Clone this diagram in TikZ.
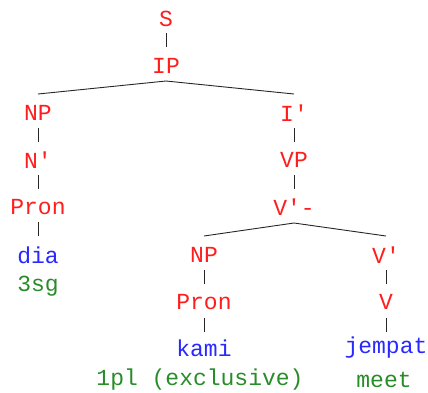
\documentclass[tikz,border=0pt]{standalone}
\usepackage{fontspec}
\setmainfont{Liberation Mono}[Ligatures=TeXOff]
\definecolor{cat}{RGB}{255,30,30}
\definecolor{word}{RGB}{40,40,255}
\definecolor{gloss}{RGB}{40,140,40}
\begin{document}
\begin{tikzpicture}[x=1pt,y=-1pt,
  every node/.style={inner sep=0pt,font=\fontsize{23}{26}\selectfont},
  cat/.style={text=cat},
  word/.style={text=word},
  gl/.style={text=gloss},
  edge/.style={draw=black!85,line width=0.9pt}]
\useasboundingbox (0,0) rectangle (428,392);
\node[cat] (S) at (166,19) {S};
\node[cat] (IP) at (166,66) {IP};
\node[cat] (NP1) at (38,113) {NP};
\node[cat] (Nb) at (38,160) {N'};
\node[cat] (Pron1) at (38,207) {Pron};
\node[word] (dia) at (38,255) {dia};
\node[gl] (g1) at (38,286) {3sg};
\node[cat] (Ib) at (294,113) {I'};
\node[cat] (VP) at (294,160) {VP};
\node[cat] (Vbm) at (294,207) {V'-};
\node[cat] (NP2) at (204,255) {NP};
\node[cat] (Pron2) at (204,302) {Pron};
\node[word] (kami) at (204,348) {kami};
\node[gl] (g2) at (200,380) {1pl (exclusive)};
\node[cat] (Vb) at (386,255) {V'};
\node[cat] (V) at (386,302) {V};
\node[word] (jempat) at (386,348) {jempat};
\node[gl] (g3) at (384,380) {meet};
\coordinate (S-b) at (166,33); \coordinate (IP-t) at (166,47);
\coordinate (IP-b) at (166,81);
\coordinate (NP1-t) at (38,94); \coordinate (Ib-t) at (294,94);
\draw[edge] (S-b) -- (IP-t);
\draw[edge] (NP1-t) -- (IP-b) -- (Ib-t);
\draw[edge] (38,128) -- (38,142);
\draw[edge] (38,175) -- (38,189);
\draw[edge] (38,222) -- (38,236);
\draw[edge] (294,128) -- (294,142);
\draw[edge] (294,175) -- (294,189);
\draw[edge] (204,236) -- (294,223) -- (386,236);
\draw[edge] (204,270) -- (204,284);
\draw[edge] (204,318) -- (204,332);
\draw[edge] (386,270) -- (386,284);
\draw[edge] (386,318) -- (386,332);
\end{tikzpicture}
\end{document}
